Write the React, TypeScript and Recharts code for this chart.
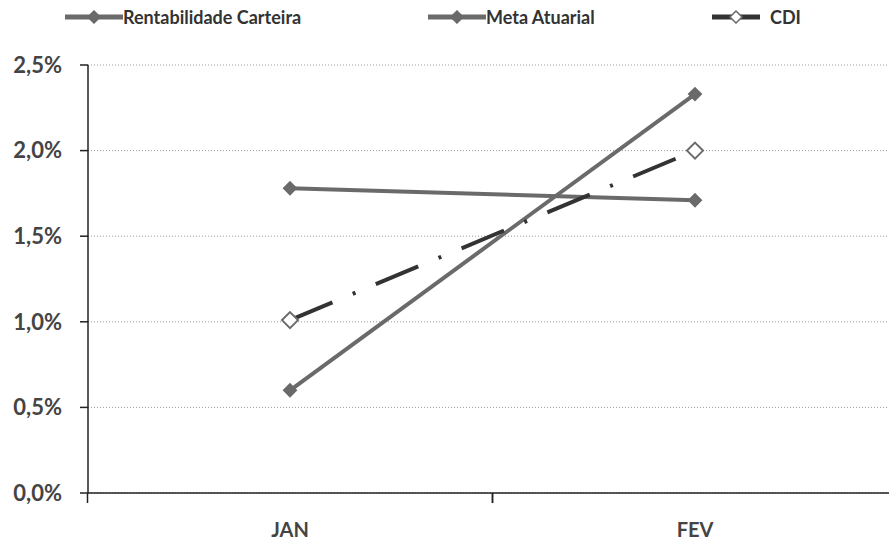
import React from "react";
import { LineChart, Line, XAxis, YAxis, CartesianGrid, Legend } from "recharts";

const months = ["JAN", "FEV"];
const rentabilidade = [0.6, 2.33];
const metaAtuarial = [1.78, 1.71];
const cdi = [1.01, 2.0];
const yTicks = [0, 0.5, 1.0, 1.5, 2.0, 2.5];

const data = months.map((m, i) => ({
  month: m,
  rent: rentabilidade[i],
  meta: metaAtuarial[i],
  cdi: cdi[i],
}));

const LINE = "#6a6a6a";
const FONT = "Lato, 'Open Sans', sans-serif";

const Diamond = (fill: string, stroke: string, r: number) => (props: any) => {
  const { cx, cy } = props;
  if (cx == null || cy == null) return null;
  return (
    <path
      d={`M${cx},${cy - r} L${cx + r},${cy} L${cx},${cy + r} L${cx - r},${cy} Z`}
      fill={fill}
      stroke={stroke}
      strokeWidth={2}
    />
  );
};

const legendItems = [
  { label: "Rentabilidade Carteira", left: 65, hollow: false, dashed: false },
  { label: "Meta Atuarial", left: 428, hollow: false, dashed: false },
  { label: "CDI", left: 712, hollow: true, dashed: true },
];

const LegendContent = () => (
  <div style={{ position: "relative", width: 889, height: 30 }}>
    {legendItems.map((it) => {
      const w = it.dashed ? 48 : 58;
      return (
        <div
          key={it.label}
          style={{
            position: "absolute",
            left: it.left,
            top: 6,
            display: "flex",
            alignItems: "center",
            fontFamily: FONT,
            fontWeight: 700,
            fontSize: 18,
            color: "#333",
            whiteSpace: "nowrap",
          }}
        >
          <svg width={w} height={14} style={{ marginRight: it.dashed ? 10 : 0 }}>
            <line x1={0} y1={7} x2={w} y2={7} stroke={it.dashed ? "#333" : LINE} strokeWidth={5} />
            <path
              d={`M${w / 2},1 L${w / 2 + 6},7 L${w / 2},13 L${w / 2 - 6},7 Z`}
              fill={it.hollow ? "#fff" : LINE}
              stroke={LINE}
              strokeWidth={1.5}
            />
          </svg>
          <span>{it.label}</span>
        </div>
      );
    })}
  </div>
);

const XTick = (props: any) => {
  const { x, y, payload } = props;
  const half = 202.5;
  return (
    <g>
      <line x1={x - half} y1={y - 8} x2={x - half} y2={y + 2} stroke="#222" strokeWidth={1.5} />
      <line x1={x + half} y1={y - 8} x2={x + half} y2={y + 2} stroke="#222" strokeWidth={1.5} />
      <text
        x={x}
        y={y + 36}
        textAnchor="middle"
        fontFamily={FONT}
        fontWeight={700}
        fontSize={20}
        fill="#444"
      >
        {payload.value}
      </text>
    </g>
  );
};

export default function App() {
  return (
    <div style={{ position: "absolute", left: 0, top: 0, width: 889, height: 542, overflow: "hidden", background: "#fff" }}>
      <LineChart
        width={898}
        height={542}
        data={data}
        margin={{ top: 35, right: 0, bottom: 0, left: 0 }}
      >
        <CartesianGrid horizontal vertical={false} stroke="#999" strokeDasharray="1 2" />
        <XAxis
          dataKey="month"
          height={49}
          padding={{ left: 202, right: 203 }}
          axisLine={{ stroke: "#222", strokeWidth: 1.5 }}
          tickLine={false}
          tick={<XTick />}
          interval={0}
        />
        <YAxis
          width={88}
          domain={[0, 2.5]}
          ticks={yTicks}
          axisLine={{ stroke: "#222", strokeWidth: 1.5 }}
          tickLine={{ stroke: "#222", strokeWidth: 1.5 }}
          tickSize={8}
          tickMargin={18}
          tickFormatter={(v: number) => v.toFixed(1).replace(".", ",") + "%"}
          tick={{ fontFamily: FONT, fontWeight: 700, fontSize: 22, fill: "#444" }}
        />
        <Legend verticalAlign="top" height={30} content={<LegendContent />} wrapperStyle={{ top: 0, left: 0 }} />
        <Line
          dataKey="rent"
          name="Rentabilidade Carteira"
          stroke={LINE}
          strokeWidth={4}
          dot={Diamond(LINE, LINE, 6)}
          isAnimationActive={false}
        />
        <Line
          dataKey="meta"
          name="Meta Atuarial"
          stroke={LINE}
          strokeWidth={4}
          dot={Diamond(LINE, LINE, 6)}
          isAnimationActive={false}
        />
        <Line
          dataKey="cdi"
          name="CDI"
          stroke="#333"
          strokeWidth={4}
          strokeDasharray="46 22 3 22"
          dot={Diamond("#fff", LINE, 8)}
          isAnimationActive={false}
        />
      </LineChart>
    </div>
  );
}
